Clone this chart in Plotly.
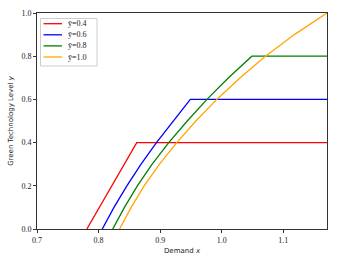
import plotly.graph_objects as go

# Data (demand x vs green technology level y)
labels = ["ȳ=0.4", "ȳ=0.6", "ȳ=0.8", "ȳ=1.0"]
colors = ["red", "blue", "green", "orange"]

x_red = [0.781, 0.801, 0.821, 0.841, 0.862, 1.20]
y_red = [0.0, 0.1, 0.2, 0.3, 0.4, 0.4]

x_blue = [0.806, 0.825, 0.846, 0.869, 0.894, 0.921, 0.949, 1.20]
y_blue = [0.0, 0.1, 0.2, 0.3, 0.4, 0.5, 0.6, 0.6]

x_green = [0.823, 0.842, 0.863, 0.887, 0.914, 0.944, 0.976, 1.011, 1.049, 1.20]
y_green = [0.0, 0.1, 0.2, 0.3, 0.4, 0.5, 0.6, 0.7, 0.8, 0.8]

x_orange = [0.834, 0.853, 0.874, 0.899, 0.927, 0.958, 0.992, 1.030, 1.071, 1.118, 1.171]
y_orange = [0.0, 0.1, 0.2, 0.3, 0.4, 0.5, 0.6, 0.7, 0.8, 0.9, 1.0]

xs = [x_red, x_blue, x_green, x_orange]
ys = [y_red, y_blue, y_green, y_orange]

x_ticks = [0.7, 0.8, 0.9, 1.0, 1.1]
y_ticks = [0.0, 0.2, 0.4, 0.6, 0.8, 1.0]

W, H = 343, 258
ML, MR, MT, MB = 37, 16, 13, 29
PW, PH = W - ML - MR, H - MT - MB


def px(xp):
    return (xp - ML) / PW


def py(yp):
    return (H - MB - yp) / PH


fig = go.Figure()
for x, y, lab, c in zip(xs, ys, labels, colors):
    fig.add_trace(go.Scatter(x=x, y=y, mode="lines", name=lab,
                             line=dict(color=c, width=1.3), showlegend=False))

# custom compact legend (matplotlib-like)
shapes = [dict(type="rect", xref="paper", yref="paper",
               x0=px(40.5), x1=px(97), y0=py(66), y1=py(18.5),
               line=dict(color="#cccccc", width=1), fillcolor="rgba(255,255,255,0.8)",
               layer="above")]
annotations = []
item_y = [23.7, 34.8, 45.9, 57.0]
for yy, lab, c in zip(item_y, labels, colors):
    shapes.append(dict(type="line", xref="paper", yref="paper",
                       x0=px(43.5), x1=px(62), y0=py(yy), y1=py(yy),
                       line=dict(color=c, width=1.3), layer="above"))
    annotations.append(dict(xref="paper", yref="paper", x=px(66), y=py(yy),
                            xanchor="left", yanchor="middle", showarrow=False,
                            text=lab, font=dict(family="Liberation Serif", size=8, color="#222")))

tickfont = dict(family="Liberation Serif", size=8, color="#222")
fig.update_layout(
    width=W, height=H,
    margin=dict(l=ML, r=MR, t=MT, b=MB, autoexpand=False),
    paper_bgcolor="white", plot_bgcolor="white",
    showlegend=False,
    shapes=shapes, annotations=annotations,
    xaxis=dict(range=[0.7, 1.171], tickvals=x_ticks, tickformat=".1f",
               showgrid=False, zeroline=False, showline=True, mirror=True,
               linecolor="#333", linewidth=1, ticks="outside", ticklen=3,
               tickcolor="#333", tickfont=tickfont, automargin=False,
               title=dict(text="Demand <i>x</i>", standoff=4,
                          font=dict(family="DejaVu Sans", size=7, color="#222"))),
    yaxis=dict(range=[0, 1.0], tickvals=y_ticks, tickformat=".1f",
               showgrid=False, zeroline=False, showline=True, mirror=True,
               linecolor="#333", linewidth=1, ticks="outside", ticklen=3,
               tickcolor="#333", tickfont=tickfont, automargin=False,
               title=dict(text="Green Technology Level <i>y</i>", standoff=6,
                          font=dict(family="DejaVu Sans", size=7, color="#222"))),
)

fig.write_html("out.html", config={"displayModeBar": False},
               post_script="document.body.style.margin='0';document.body.style.overflow='hidden';")
